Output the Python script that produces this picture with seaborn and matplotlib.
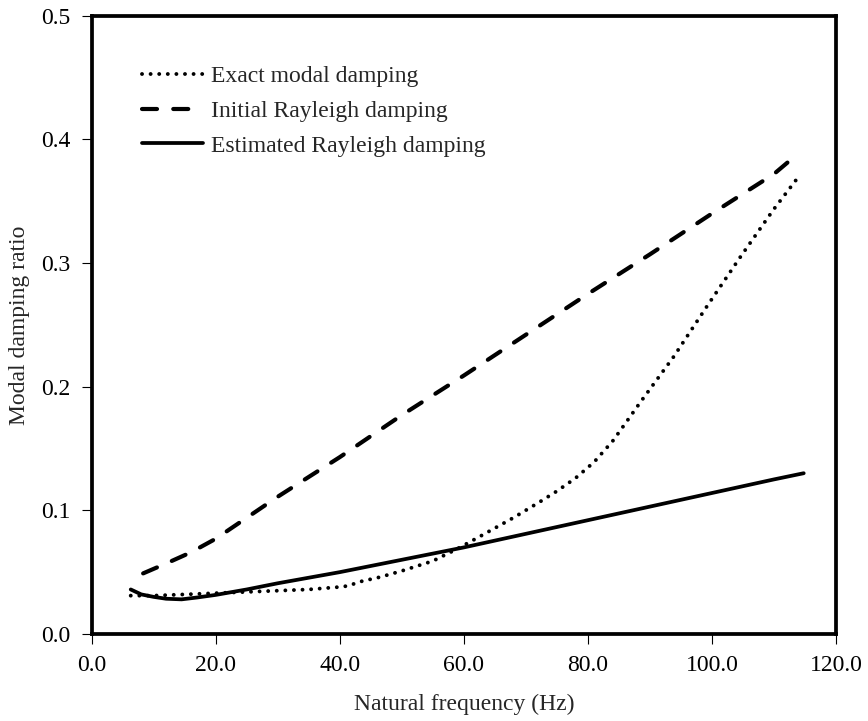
import matplotlib
matplotlib.use("Agg")
import matplotlib.pyplot as plt
import seaborn as sns
import pandas as pd

# ---- data ----
exact_f = [6.3, 10, 15, 20, 25, 30, 35, 40, 41.5, 43, 46.5, 50, 55, 59, 63, 68, 72.3,
           75, 78, 81, 84, 86, 88.4, 93.8, 99.2, 104.6, 109.9, 114.0]
exact_z = [0.031, 0.031, 0.032, 0.033, 0.034, 0.035, 0.036, 0.038, 0.039, 0.042, 0.046,
           0.051, 0.059, 0.069, 0.080, 0.094, 0.107, 0.1155, 0.126, 0.139, 0.156, 0.170,
           0.187, 0.224, 0.265, 0.305, 0.343, 0.370]

initial_f = [8.3, 12, 16, 20, 25, 30, 40, 50, 60, 70, 80, 90, 100, 110, 113.3]
initial_z = [0.049, 0.057, 0.066, 0.077, 0.094, 0.111, 0.143, 0.177, 0.209, 0.242,
             0.275, 0.307, 0.340, 0.372, 0.386]

est_f = [6.3, 8, 10, 12, 14.5, 17, 20, 25, 30, 40, 50, 60, 70, 80, 90, 100, 110, 114.8]
est_z = [0.036, 0.032, 0.030, 0.0285, 0.028, 0.0295, 0.0316, 0.036, 0.041, 0.050,
         0.060, 0.070, 0.081, 0.092, 0.103, 0.114, 0.125, 0.130]

labels = ["Exact modal damping", "Initial Rayleigh damping", "Estimated Rayleigh damping"]
x_ticks = [0, 20, 40, 60, 80, 100, 120]
y_ticks = [0.0, 0.1, 0.2, 0.3, 0.4, 0.5]

sns.set_style("white")
plt.rcParams["font.family"] = ["Liberation Serif", "DejaVu Serif"]

fig = plt.figure(figsize=(8.68, 7.21), dpi=100)
ax = fig.add_axes([0.1056, 0.1207, 0.8575, 0.8575])

df_exact = pd.DataFrame({"f": exact_f, "z": exact_z})
df_init = pd.DataFrame({"f": initial_f, "z": initial_z})
df_est = pd.DataFrame({"f": est_f, "z": est_z})

sns.lineplot(data=df_exact, x="f", y="z", ax=ax, color="black", lw=2.8,
             linestyle=(0, (0.01, 2.2)), dash_capstyle="round",
             label=labels[0], sort=False)
sns.lineplot(data=df_init, x="f", y="z", ax=ax, color="black", lw=3.0,
             linestyle=(0, (3.6, 3.9)), dash_capstyle="round",
             label=labels[1], sort=False)
sns.lineplot(data=df_est, x="f", y="z", ax=ax, color="black", lw=2.7,
             linestyle="-", label=labels[2], sort=False)

ax.set_xlim(0, 120)
ax.set_ylim(0, 0.5)
ax.set_xticks(x_ticks)
ax.set_xticklabels([f"{v:.1f}" for v in x_ticks])
ax.set_yticks(y_ticks)
ax.set_yticklabels([f"{v:.1f}" for v in y_ticks])
ax.tick_params(axis="both", direction="out", length=7, width=0.8, color="black",
               labelsize=17, labelcolor="black")
ax.tick_params(axis="y", pad=8.5)
ax.tick_params(axis="x", pad=8)
ax.tick_params(bottom=True, left=True)
for s in ax.spines.values():
    s.set_visible(True)
    s.set_linewidth(2.7)
    s.set_color("black")

ax.set_xlabel("Natural frequency (Hz)", fontsize=17, labelpad=13)
ax.set_ylabel("Modal damping ratio", fontsize=17, labelpad=8)

leg = ax.legend(loc="upper left", bbox_to_anchor=(0.055, 0.934), frameon=False,
                fontsize=17, handlelength=2.6, handletextpad=0.3, labelspacing=0.55,
                borderaxespad=0)

fig.savefig("out.png", dpi=100)
